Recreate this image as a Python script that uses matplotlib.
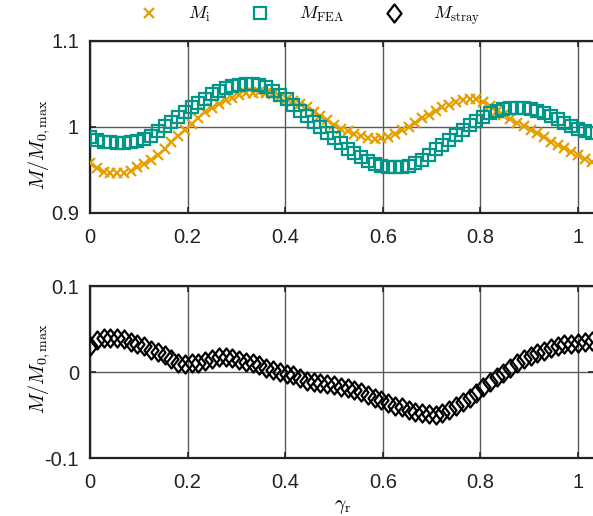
import matplotlib
matplotlib.use("Agg")
import matplotlib.pyplot as plt
import numpy as np
from matplotlib.path import Path

# ---------------- data ----------------
gamma_r = np.arange(75) / 72.0

M_i = [0.958, 0.952, 0.948, 0.946, 0.946, 0.947, 0.949, 0.953, 0.957, 0.962,
       0.968, 0.975, 0.983, 0.989, 0.997, 1.004, 1.011, 1.017, 1.022, 1.027,
       1.031, 1.034, 1.037, 1.039, 1.040, 1.041, 1.040, 1.038, 1.035, 1.032,
       1.030, 1.027, 1.023, 1.018, 1.013, 1.008, 1.002, 0.998, 0.995, 0.992,
       0.989, 0.987, 0.986, 0.987, 0.988, 0.992, 0.996, 1.000, 1.005, 1.010,
       1.014, 1.019, 1.023, 1.026, 1.029, 1.031, 1.033, 1.032, 1.029, 1.024,
       1.019, 1.014, 1.009, 1.005, 1.001, 0.997, 0.993, 0.988, 0.983, 0.979,
       0.976, 0.971, 0.967, 0.963, 0.959]

M_FEA = [0.988, 0.985, 0.983, 0.982, 0.981, 0.981, 0.982, 0.984, 0.986, 0.990,
         0.995, 1.001, 1.006, 1.012, 1.018, 1.023, 1.028, 1.033, 1.038, 1.042,
         1.045, 1.048, 1.049, 1.050, 1.050, 1.049, 1.046, 1.042, 1.037, 1.032,
         1.026, 1.019, 1.013, 1.006, 1.000, 0.993, 0.987, 0.981, 0.975, 0.970,
         0.965, 0.961, 0.957, 0.955, 0.954, 0.954, 0.954, 0.955, 0.958, 0.962,
         0.967, 0.974, 0.979, 0.985, 0.991, 0.997, 1.002, 1.007, 1.012, 1.016,
         1.019, 1.021, 1.022, 1.022, 1.022, 1.021, 1.019, 1.016, 1.013, 1.009,
         1.005, 1.001, 0.998, 0.995, 0.993]

M_stray = [0.030, 0.037, 0.040, 0.040, 0.039, 0.038, 0.035, 0.033, 0.030, 0.026,
           0.023, 0.020, 0.015, 0.011, 0.009, 0.010, 0.011, 0.013, 0.015, 0.017,
           0.017, 0.016, 0.014, 0.012, 0.010, 0.008, 0.005, 0.002, 0.000, -0.002,
           -0.004, -0.007, -0.010, -0.012, -0.013, -0.014, -0.015, -0.017, -0.019, -0.021,
           -0.023, -0.027, -0.030, -0.033, -0.036, -0.039, -0.041, -0.044, -0.046, -0.048,
           -0.049, -0.050, -0.048, -0.044, -0.039, -0.035, -0.030, -0.024, -0.018, -0.012,
           -0.006, -0.001, 0.005, 0.010, 0.015, 0.019, 0.022, 0.025, 0.028, 0.030,
           0.032, 0.033, 0.034, 0.035, 0.036]

x_ticks = [0, 0.2, 0.4, 0.6, 0.8, 1]
x_ticklabels = ["0", "0.2", "0.4", "0.6", "0.8", "1"]
top_yticks = [0.9, 1.0, 1.1]
top_yticklabels = ["0.9", "1", "1.1"]
bot_yticks = [-0.1, 0.0, 0.1]
bot_yticklabels = ["-0.1", "0", "0.1"]

# ---------------- style ----------------
plt.rcParams['font.family'] = ['Liberation Sans', 'DejaVu Sans']
plt.rcParams['mathtext.fontset'] = 'cm'

C_ORANGE = '#E69F00'
C_TEAL = '#009688'

W, H = 593, 516
fig = plt.figure(figsize=(W / 100, H / 100), dpi=100)

px_per_unit = 488.0
x_left_px = 90.0
xmax = 1.033
ax_w = xmax * px_per_unit

def fig_rect(top_px, bottom_px):
    return [x_left_px / W, (H - bottom_px) / H, ax_w / W, (bottom_px - top_px) / H]

ax1 = fig.add_axes(fig_rect(41, 213))
ax2 = fig.add_axes(fig_rect(286, 458))

diamond = Path([(0, 1), (0.78, 0), (0, -1), (-0.78, 0), (0, 1)],
               [Path.MOVETO, Path.LINETO, Path.LINETO, Path.LINETO, Path.CLOSEPOLY])

h1, = ax1.plot(gamma_r, M_i, linestyle='none', marker='x', color=C_ORANGE,
               markersize=7.5, markeredgewidth=1.6, label=r'$M_{\rm i}$', zorder=3)
h2, = ax1.plot(gamma_r, M_FEA, linestyle='none', marker='s', markerfacecolor='none',
               markeredgecolor=C_TEAL, markersize=8.0, markeredgewidth=1.6,
               label=r'$M_{\rm FEA}$', zorder=3)
h3, = ax2.plot(gamma_r, M_stray, linestyle='none', marker=diamond, markerfacecolor='none',
               markeredgecolor='black', markersize=13.0, markeredgewidth=1.6,
               label=r'$M_{\rm stray}$', zorder=3)

for ax, yt, ytl, ylim in [(ax1, top_yticks, top_yticklabels, (0.9, 1.1)),
                          (ax2, bot_yticks, bot_yticklabels, (-0.1, 0.1))]:
    ax.set_xlim(0, xmax)
    ax.set_ylim(*ylim)
    ax.set_xticks(x_ticks)
    ax.set_xticklabels(x_ticklabels)
    ax.set_yticks(yt)
    ax.set_yticklabels(ytl)
    ax.grid(True, color='#5a5a5a', linewidth=1.0, zorder=0)
    ax.set_axisbelow(True)
    for s in ax.spines.values():
        s.set_linewidth(1.6)
        s.set_color('#222222')
    ax.tick_params(direction='in', length=4, width=1.2, top=True, right=True,
                   labelsize=14.5, colors='#222222')
    ax.tick_params(axis='x', pad=11)
    ax.tick_params(axis='y', pad=8)
    ax.set_ylabel(r'$M/M_{0,\max}$', fontsize=14.5)

ax1.yaxis.set_label_coords(-38 / ax_w, 0.40)
ax2.yaxis.set_label_coords(-38 / ax_w, 0.52)

ax2.set_xlabel(r'$\gamma_{\rm r}$', fontsize=14)
ax2.xaxis.set_label_coords(0.5, -0.23)

fig.legend(handles=[h1, h2, h3], loc='center', bbox_to_anchor=(310 / W, 1 - 16 / H),
           ncol=3, frameon=False, fontsize=13, handlelength=1.0,
           handletextpad=1.7, columnspacing=2.2, borderaxespad=0)

fig.savefig('out.png', dpi=100)
